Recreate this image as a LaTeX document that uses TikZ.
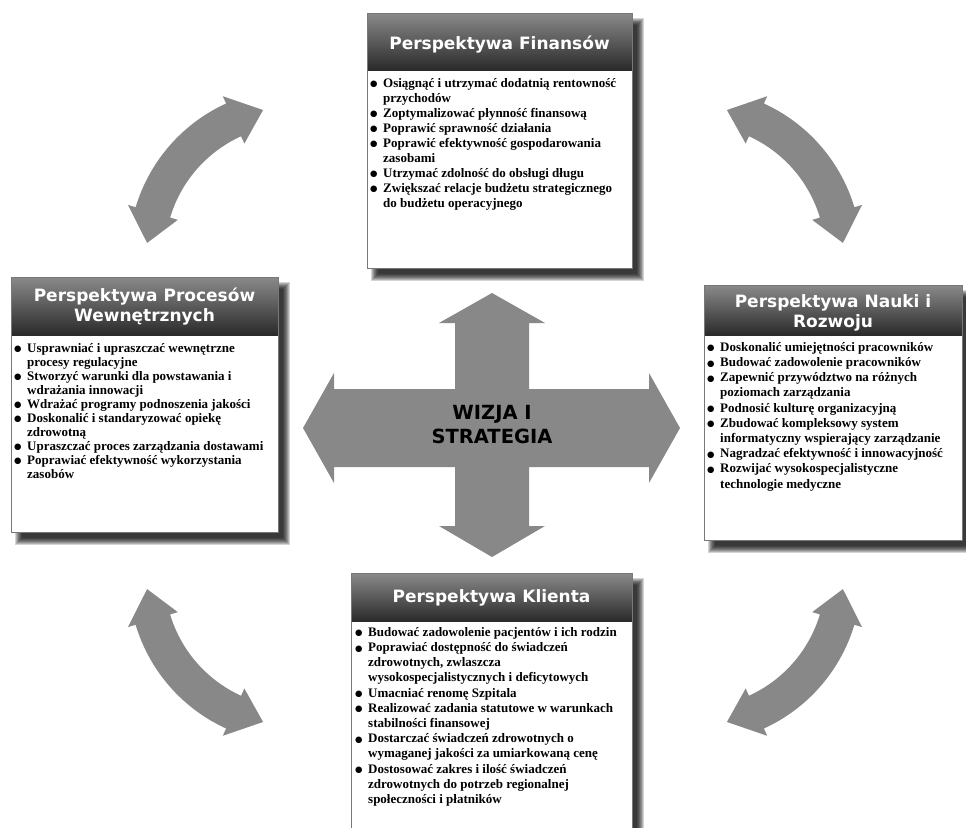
\documentclass[tikz,border=0pt]{standalone}
\usepackage{fontspec}
\setmainfont{Liberation Serif}
\newfontfamily\titlefont{DejaVu Sans}
\newfontfamily\symfont{DejaVu Sans}
\usetikzlibrary{calc}
\definecolor{arrgray}{RGB}{136,136,136}
\definecolor{hdtop}{RGB}{138,138,138}
\definecolor{hdbot}{RGB}{42,42,42}
\definecolor{boxline}{RGB}{120,120,120}
\newcommand{\bul}{\makebox[13pt][l]{\raisebox{0.3pt}{\symfont\fontsize{8.5}{8.5}\selectfont ●}}}
\newcommand{\cont}{\hspace*{13pt}}
\newcommand{\perspbox}[5]{%
  \foreach \k in {-3,...,4}{\fill[black,opacity=0.17] ({#1+8-\k},{#2+9-\k}) rectangle ({#3+8+\k},{#4+9+\k});}
  \fill[white] (#1,#2) rectangle (#3,#4);
  \shade[top color=hdtop,bottom color=hdbot] (#1,#2) rectangle (#3,#5);
  \draw[boxline,line width=0.8pt] (#1,#2) rectangle (#3,#4);
}
\newcommand{\curvedarrow}[4]{%
  \begin{scope}[shift={(#1,#2)}]
    \fill[arrgray] (#3:148.6) -- ({#3+12}:174.6) -- ({#3+12}:166.6)
      -- plot[domain={#3+12}:{#4-12},samples=40] (\x:166.6)
      -- ({#4-12}:174.6) -- (#4:148.6) -- ({#4-12}:122.6) -- ({#4-12}:130.6)
      -- plot[domain={#4-12}:{#3+12},samples=40] (\x:130.6)
      -- ({#3+12}:122.6) -- cycle;
  \end{scope}
}
\begin{document}
\begin{tikzpicture}[x=1pt,y=-1pt,
  title/.style={text=white,align=center,inner sep=0pt,font=\titlefont\bfseries\fontsize{17}{20}\selectfont},
  body/.style={align=left,inner sep=0pt,anchor=north west,font=\bfseries\fontsize{13}{15}\selectfont},
  center text/.style={align=center,inner sep=0pt,font=\titlefont\bfseries\fontsize{19.5}{24}\selectfont}]
\useasboundingbox (0,0) rectangle (966,827);
\clip (0,0) rectangle (966,827);
\fill[white] (0,0) rectangle (966,827);

% curved arrows
\curvedarrow{295.2}{255.1}{184.7}{257.5}
\curvedarrow{694.8}{255.1}{-77.5}{-4.7}
\curvedarrow{295.2}{576.9}{102.5}{175.3}
\curvedarrow{694.8}{576.9}{4.7}{77.5}

% central cross
\fill[arrgray] (492,293) -- (545,323) -- (529,323) -- (529,389) -- (649,389) -- (649,373)
  -- (680,428) -- (649,483) -- (649,467) -- (529,467) -- (529,526) -- (545,526) -- (492,557)
  -- (439,526) -- (455,526) -- (455,467) -- (334,467) -- (334,483) -- (303,428) -- (334,373)
  -- (334,389) -- (455,389) -- (455,323) -- (439,323) -- cycle;
\node[center text] (wizja) at (492,425) {WIZJA I\\STRATEGIA};

% boxes
\perspbox{367}{13}{632}{268}{70}
\node[title] (fint) at (499.5,45) {Perspektywa Finansów};
\node[body] (finb) at (370,76.5) {\strut\bul Osiągnąć i utrzymać dodatnią rentowność\\
\cont przychodów\\
\bul Zoptymalizować płynność finansową\\
\bul Poprawić sprawność działania\\
\bul Poprawić efektywność gospodarowania\\
\cont zasobami\\
\bul Utrzymać zdolność do obsługi długu\\
\bul Zwiększać relacje budżetu strategicznego\\
\cont do budżetu operacyjnego};

\perspbox{11}{277}{278}{532}{335}
\node[title] (proct) at (144.5,307) {Perspektywa Procesów\\Wewnętrznych};
\node[body,font=\bfseries\fontsize{13}{14}\selectfont] (procb) at (14,342.2) {\strut\bul Usprawniać i upraszczać wewnętrzne\\
\cont procesy regulacyjne\\
\bul Stworzyć warunki dla powstawania i\\
\cont wdrażania innowacji\\
\bul Wdrażać programy podnoszenia jakości\\
\bul Doskonalić i standaryzować opiekę\\
\cont zdrowotną\\
\bul Upraszczać proces zarządzania dostawami\\
\bul Poprawiać efektywność wykorzystania\\
\cont zasobów};

\perspbox{704}{285}{962}{540}{335}
\node[title] (naukt) at (833,312.5) {Perspektywa Nauki i\\Rozwoju};
\node[body,font=\bfseries\fontsize{13}{15.2}\selectfont] (naukb) at (707,340.4) {\strut\bul Doskonalić umiejętności pracowników\\
\bul Budować zadowolenie pracowników\\
\bul Zapewnić przywództwo na różnych\\
\cont poziomach zarządzania\\
\bul Podnosić kulturę organizacyjną\\
\bul Zbudować kompleksowy system\\
\cont informatyczny wspierający zarządzanie\\
\bul Nagradzać efektywność i innowacyjność\\
\bul Rozwijać wysokospecjalistyczne\\
\cont technologie medyczne};

\perspbox{351}{573}{632}{860}{621}
\node[title] (klit) at (491.5,598) {Perspektywa Klienta};
\node[body,font=\bfseries\fontsize{13}{15.2}\selectfont] (klib) at (355,625.4) {\strut\bul Budować zadowolenie pacjentów i ich rodzin\\
\bul Poprawiać dostępność do świadczeń\\
\cont zdrowotnych, zwlaszcza\\
\cont wysokospecjalistycznych i deficytowych\\
\bul Umacniać renomę Szpitala\\
\bul Realizować zadania statutowe w warunkach\\
\cont stabilności finansowej\\
\bul Dostarczać świadczeń zdrowotnych o\\
\cont wymaganej jakości za umiarkowaną cenę\\
\bul Dostosować zakres i ilość świadczeń\\
\cont zdrowotnych do potrzeb regionalnej\\
\cont społeczności i płatników};
\end{tikzpicture}
\end{document}
